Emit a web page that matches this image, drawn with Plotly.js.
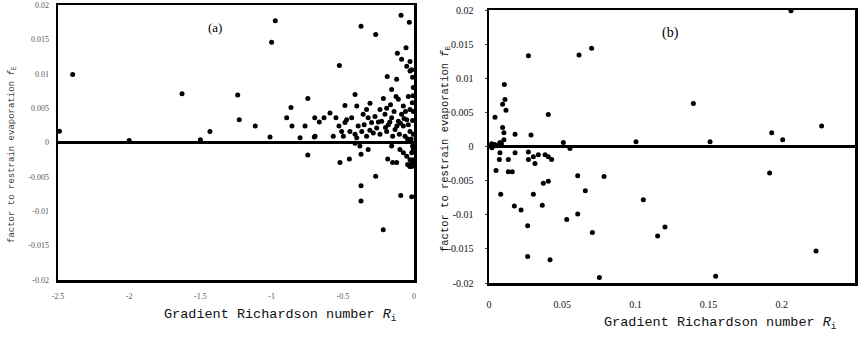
<!DOCTYPE html>
<html><head><meta charset="utf-8">
<script src="https://cdn.plot.ly/plotly-3.0.1.min.js"></script>
<style>html,body{margin:0;padding:0;background:#fff}#c{width:859px;height:337px}</style>
</head><body><div id="c"></div>
<script>
// Panel (a): Ri < 0
const riA = [-2.49,-2.397,-2.0,-1.629,-1.50,-1.433,-1.238,-1.227,-1.115,-1.0,-0.974,-1.011,-0.894,-0.864,-0.857,-0.80,-0.765,-0.746,-0.746,-0.697,-0.70,-0.665,-0.632,-0.59,-0.567,-0.548,-0.524,-0.52,-0.454,-0.485,-0.473,-0.414,-0.402,-0.372,-0.372,-0.372,-0.372,-0.269,-0.269,-0.216,-0.188,-0.215,-0.185,-0.157,-0.122,-0.117,-0.091,-0.093,-0.056,-0.033,-0.016,-0.15,-0.122,-0.087,-0.051,-0.028,-0.028,
  -0.126,-0.11,-0.04,-0.309,-0.239,-0.192,-0.075,-0.028,-0.527,-0.485,-0.438,-0.45,-0.392,-0.357,-0.333,-0.322,-0.298,-0.274,-0.262,-0.227,-0.204,-0.18,-0.157,-0.133,-0.11,-0.087,-0.075,-0.051,-0.028,-0.04,-0.695,-0.508,-0.496,-0.414,-0.367,-0.333,-0.286,-0.239,-0.192,-0.15,-0.103,-0.063,
  -0.38,-0.322,-0.157,-0.099,-0.075,-0.051,-0.028,-0.016,-0.402,-0.414,
  -0.01,-0.005,-0.012,-0.06,-0.095,-0.14,-0.17,-0.2,-0.25,-0.31,-0.35,-0.008,-0.005,-0.01,-0.004,-0.02,-0.045,-0.07,-0.12,-0.165,-0.01,-0.005,-0.03,-0.045,-0.016,-0.016,-0.005,-0.016];
const fA = [0.00165,0.0099,0.0003,0.0071,0.0004,0.0016,0.0069,0.0033,0.0024,0.0146,0.0177,0.0008,0.0036,0.0051,0.0024,0.0007,0.0024,0.0064,-0.0018,0.0036,0.0008,0.0030,0.0036,0.0043,0.0009,0.0036,0.0112,-0.0029,-0.0024,0.0054,0.0033,0.007,0.0053,0.0169,-0.0063,-0.0085,-0.0017,0.0157,-0.0049,-0.0127,0.0096,0.0064,-0.0024,0.0077,0.0092,0.013,0.0185,-0.0077,0.0138,0.0175,-0.0079,-0.0029,-0.0029,0.0121,0.0111,0.0118,0.0104,
  0.0067,0.0063,0.0067,0.0057,0.0048,0.005,0.0053,0.0048,0.0024,0.0029,0.0036,0.0016,0.0024,0.0041,0.0048,0.0036,0.0029,0.0038,0.0021,0.0031,0.0041,0.0026,0.0036,0.0019,0.0031,0.0041,0.0024,0.0033,0.0016,0.0026,0.0009,0.0016,0.0009,0.0012,0.0016,0.0009,0.0014,0.0012,0.0016,0.0009,0.0012,0.0009,
  -0.0005,-0.001,-0.0005,-0.001,-0.0015,-0.002,-0.0025,-0.0015,0.0007,-0.0001,
  0.0032,0.0045,0.0058,0.0045,0.0028,0.0045,0.003,0.0022,0.003,0.0018,0.0026,0.0068,0.008,0.0095,0.0012,0.0005,0.0005,0.0035,0.0024,0.0055,-0.0005,-0.001,-0.0035,-0.0032,-0.003,-0.0035,-0.0025,0.0106];

// Panel (b): Ri > 0
const riB = [0.0269,0.0615,0.0701,0.0105,0.0109,0.0093,0.0116,0.0041,0.0405,0.0093,0.0102,0.0178,0.0287,0.0102,0.0075,0.0018,0.0041,0.0508,0.0553,0.0075,0.0178,0.0269,0.0071,0.0132,0.0269,0.0303,0.0314,0.0337,0.0383,0.0405,0.0428,0.0048,0.0132,0.0159,0.0371,0.0405,0.0606,0.0786,0.008,0.0303,0.0658,0.0173,0.0219,0.0364,0.0531,0.0606,0.0264,0.0706,0.0264,0.0417,0.0754,
  0.2063,0.1396,0.2272,0.1931,0.2006,0.151,0.1004,0.1054,0.1202,0.1152,0.1917,0.2234,0.1548,
  0.001,0.002,0.004,0.006,0.0085];
const fB = [0.0133,0.0134,0.0144,0.0091,0.0069,0.0062,0.0053,0.0043,0.0047,0.0028,0.002,0.0018,0.0017,0.001,0.0006,0.0004,0.0001,0.0006,-0.0003,-0.0009,-0.0009,-0.0008,-0.0019,-0.0019,-0.0019,-0.0015,-0.0025,-0.0012,-0.0012,-0.0015,-0.0019,-0.0035,-0.0037,-0.0037,-0.0054,-0.0051,-0.0043,-0.0044,-0.007,-0.007,-0.0065,-0.0087,-0.0093,-0.0086,-0.0107,-0.0099,-0.0116,-0.0126,-0.0161,-0.0166,-0.0192,
  0.0199,0.0063,0.003,0.002,0.001,0.0007,0.0007,-0.0078,-0.0118,-0.0131,-0.0039,-0.0153,-0.019,
  0.0002,-0.0002,0.0003,0.0001,0.0004];

const xTickA = [-2.5,-2,-1.5,-1,-0.5,0];
const xTextA = ["-2.5","-2","-1.5","-1","-0.5","0"];
const xTickB = [0,0.05,0.1,0.15,0.2,0.25];
const xTextB = ["0","0.05","0.1","0.15","0.2","0.25"];
const yTick = [0.02,0.015,0.01,0.005,0,-0.005,-0.01,-0.015,-0.02];
const yText = ["0.02","0.015","0.01","0.005","0","-0.005","-0.01","-0.015","-0.02"];

const W=859,H=337;
const mk = {color:'#000', size:5, symbol:'circle'};
const traces = [
  {type:'scatter', mode:'markers', x:riA, y:fA, xaxis:'x', yaxis:'y', marker:mk, cliponaxis:false, hoverinfo:'x+y'},
  {type:'scatter', mode:'markers', x:riB, y:fB, xaxis:'x2', yaxis:'y2', marker:mk, cliponaxis:false, hoverinfo:'x+y'}
];
const ax = (extra)=>Object.assign({
  showgrid:false, showline:true, mirror:true, linecolor:'#000', linewidth:2.5,
  zeroline:false, ticks:'', fixedrange:true
}, extra);
const ann = (o)=>Object.assign({xref:'paper', yref:'paper', showarrow:false, xanchor:'center', yanchor:'middle'}, o);
const layout = {
  width:W, height:H, margin:{l:0,r:0,t:0,b:0},
  paper_bgcolor:'#fff', plot_bgcolor:'#fff', showlegend:false,
  font:{family:'Liberation Serif', color:'#000'},
  xaxis: ax({domain:[58/W,414/W], range:[-2.5,0], anchor:'y', tickvals:xTickA, ticktext:xTextA,
    tickfont:{size:8,color:'#555'}, ticklabelstandoff:7}),
  yaxis: ax({domain:[(H-280)/H,(H-5)/H], range:[-0.02,0.02], anchor:'x', tickvals:yTick, ticktext:yText,
    tickfont:{size:8,color:'#555'}, ticklabelstandoff:5, zeroline:true, zerolinecolor:'#000', zerolinewidth:2.5}),
  xaxis2: ax({domain:[489/W,855/W], range:[0,0.25], anchor:'y2', tickvals:xTickB, ticktext:xTextB,
    tickfont:{size:10,color:'#111'}, ticklabelstandoff:10}),
  yaxis2: ax({domain:[(H-283)/H,(H-10)/H], range:[-0.02,0.02], anchor:'x2', tickvals:yTick, ticktext:yText,
    tickfont:{size:10,color:'#111'}, ticklabelstandoff:9, ticks:'outside', ticklen:2, tickwidth:1,
    zeroline:true, zerolinecolor:'#000', zerolinewidth:2.5}),
  annotations:[
    ann({text:'(a)', x:215/W, y:1-28/H, font:{size:13,family:'Liberation Serif'}}),
    ann({text:'(b)', x:670/W, y:1-33/H, font:{size:14,family:'Liberation Serif'}}),
    ann({text:'Gradient Richardson number <i>R</i><sub>i</sub>', x:280/W, y:1-315/H,
      font:{size:13.5,family:'Liberation Mono',color:'#111'}}),
    ann({text:'Gradient Richardson number <i>R</i><sub>i</sub>', x:720/W, y:1-323/H,
      font:{size:13.5,family:'Liberation Mono',color:'#111'}}),
    ann({text:'factor to restrain evaporation <i>f</i><sub>E</sub>', x:12/W, y:1-155/H, textangle:-90,
      font:{size:9,family:'Liberation Mono',color:'#444'}}),
    ann({text:'factor to restrain evaporation <i>f</i><sub>E</sub>', x:445/W, y:1-148/H, textangle:-90,
      font:{size:10.5,family:'Liberation Mono',color:'#111'}})
  ]
};
Plotly.newPlot('c', traces, layout, {staticPlot:true, displayModeBar:false});
</script></body></html>
